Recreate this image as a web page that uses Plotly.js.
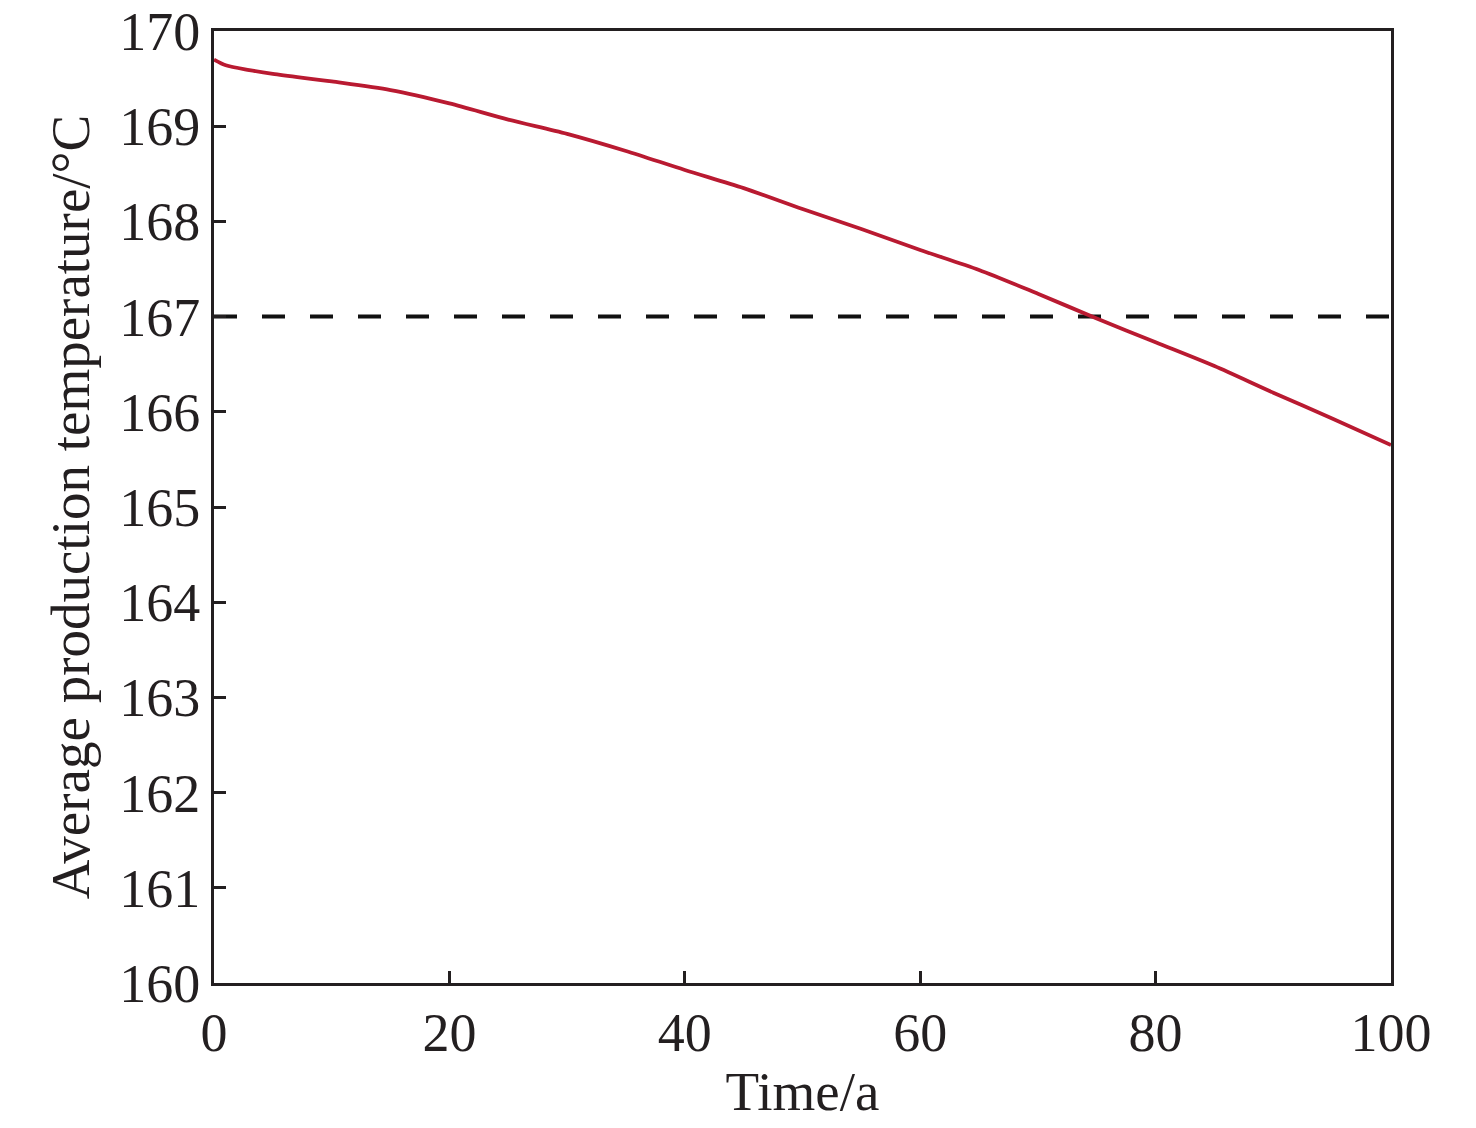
<!DOCTYPE html>
<html>
<head>
<meta charset="utf-8">
<script src="https://cdn.plot.ly/plotly-3.0.1.min.js"></script>
<style>html,body{margin:0;padding:0;background:#fff;}#chart{width:1476px;height:1128px;}</style>
</head>
<body>
<div id="chart"></div>
<script>
const timeYears = [0, 1, 3, 5, 10, 15, 20, 25, 30, 35, 40, 45, 50, 55, 60, 65, 70, 75, 80, 85, 90, 95, 100];
const avgTemperature = [169.70, 169.64, 169.59, 169.55, 169.47, 169.38, 169.24, 169.07, 168.92, 168.74, 168.54, 168.35, 168.13, 167.92, 167.70, 167.49, 167.24, 166.98, 166.73, 166.48, 166.20, 165.93, 165.65];
const thresholdX = [0, 100];
const thresholdY = [167, 167];
const xTicks = [0, 20, 40, 60, 80, 100];
const yTicks = [160, 161, 162, 163, 164, 165, 166, 167, 168, 169, 170];

const font = {family: '"Liberation Serif", "Times New Roman", serif', color: '#231f20'};

const traces = [
  {x: thresholdX, y: thresholdY, mode: 'lines', line: {color: '#111', width: 4, dash: '23px,25px'}, hoverinfo: 'skip'},
  {x: timeYears, y: avgTemperature, mode: 'lines', line: {color: '#b91a31', width: 3.8, shape: 'spline', smoothing: 0.8}}
];

const axisCommon = {
  showgrid: false, zeroline: false, showline: true, linecolor: '#231f20', linewidth: 3,
  mirror: true, ticks: 'inside', ticklen: 12, tickwidth: 3, tickcolor: '#231f20',
  tickfont: Object.assign({size: 54}, font)
};

const layout = {
  width: 1476, height: 1128,
  margin: {l: 214, r: 85, t: 31, b: 145},
  paper_bgcolor: '#fff', plot_bgcolor: '#fff',
  showlegend: false,
  font: font,
  xaxis: Object.assign({}, axisCommon, {
    range: [0, 100], tickvals: xTicks, ticktext: xTicks.map(String),
    title: {text: 'Time/a', font: Object.assign({size: 55}, font), standoff: 10}
  }),
  yaxis: Object.assign({}, axisCommon, {
    range: [160, 170], tickvals: yTicks, ticktext: yTicks.map(String),
    title: {text: 'Average production temperature/°C', font: Object.assign({size: 55}, font), standoff: 12}
  })
};

Plotly.newPlot('chart', traces, layout, {displayModeBar: false, staticPlot: true});
</script>
</body>
</html>
